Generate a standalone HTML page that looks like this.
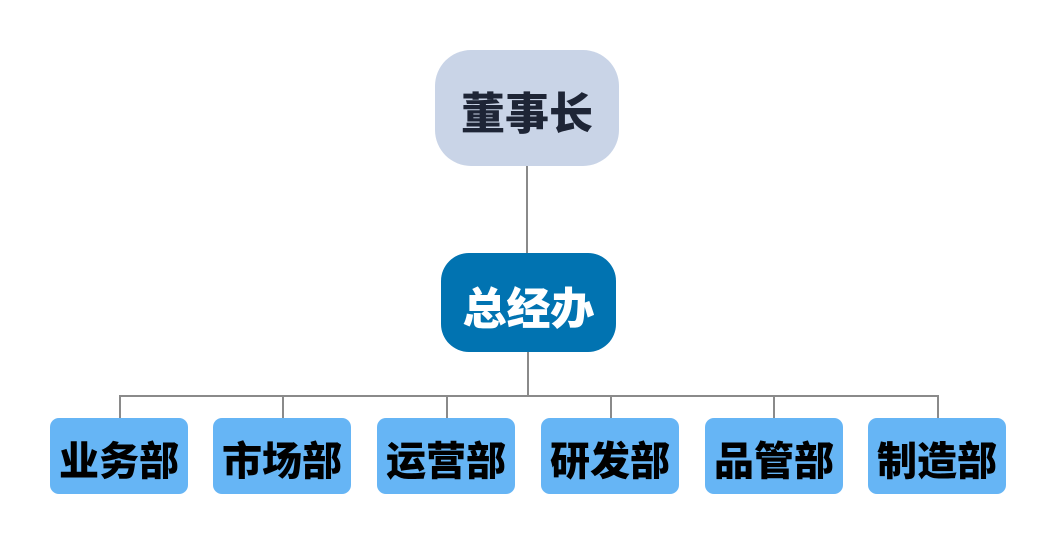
<!DOCTYPE html>
<html><head><meta charset="utf-8"><style>
body{margin:0;width:1056px;height:544px;background:#fff;position:relative;overflow:hidden;font-family:"Liberation Sans","Noto Sans CJK SC",sans-serif;font-weight:900}
.b{position:absolute;display:flex;align-items:center;justify-content:center;box-sizing:border-box;padding-top:4px}
.l{position:absolute;background:#8a8a8a}
.d{top:418px;width:138px;height:76px;background:#66b5f5;border-radius:9px;color:#000;font-size:40px}
</style></head><body>
<div class="l" style="left:526px;top:166px;width:2px;height:88px"></div>
<div class="l" style="left:527px;top:352px;width:2px;height:44px"></div>
<div class="l" style="left:119px;top:395px;width:820px;height:2px"></div>
<div class="l" style="left:119px;top:396px;width:2px;height:22px"></div>
<div class="l" style="left:282px;top:396px;width:2px;height:22px"></div>
<div class="l" style="left:446px;top:396px;width:2px;height:22px"></div>
<div class="l" style="left:610px;top:396px;width:2px;height:22px"></div>
<div class="l" style="left:773px;top:396px;width:2px;height:22px"></div>
<div class="l" style="left:937px;top:396px;width:2px;height:22px"></div>
<div class="b" style="left:435px;top:50px;width:184px;height:116px;background:#c9d4e7;border-radius:36px;color:#1e2536;font-size:44px">董事长</div>
<div class="b" style="left:441px;top:253px;width:175px;height:99px;background:#0173b1;border-radius:28px;color:#fff;font-size:44px">总经办</div>
<div class="b d" style="left:50px">业务部</div>
<div class="b d" style="left:213px">市场部</div>
<div class="b d" style="left:377px">运营部</div>
<div class="b d" style="left:541px">研发部</div>
<div class="b d" style="left:705px">品管部</div>
<div class="b d" style="left:868px">制造部</div>
</body></html>
